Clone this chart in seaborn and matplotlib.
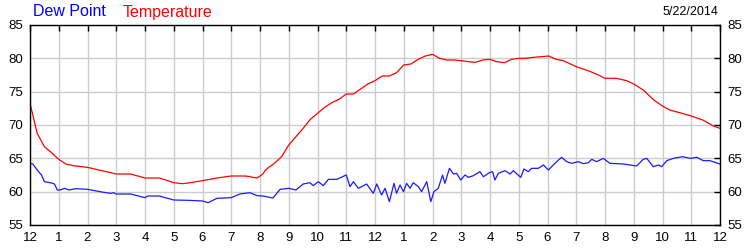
import matplotlib
matplotlib.use("Agg")
import matplotlib.pyplot as plt
import seaborn as sns
import pandas as pd

# Hours since midnight (0..24) and readings
temp_hours = [0, 0.25, 0.5, 0.75, 1, 1.25, 1.5, 2, 2.5, 3, 3.5, 4, 4.5, 5, 5.3, 5.5, 6, 6.5,
              7, 7.5, 7.9, 8.1, 8.2, 8.5, 8.75, 9, 9.25, 9.5, 9.75, 10, 10.25, 10.5, 10.75,
              11, 11.25, 11.5, 11.75, 12, 12.25, 12.5, 12.75, 13, 13.25, 13.5, 13.75, 14,
              14.25, 14.5, 14.75, 15, 15.25, 15.5, 15.75, 16, 16.23, 16.5, 16.75, 17, 17.25,
              17.5, 17.8, 18.04, 18.3, 18.55, 18.8, 19.0, 19.35, 19.7, 20, 20.4, 20.75, 21,
              21.33, 21.7, 22, 22.25, 22.6, 23, 23.4, 23.77, 24]
temperature = [73.25, 68.75, 66.75, 65.85, 64.85, 64.15, 63.9, 63.65, 63.15, 62.65, 62.65,
               62.05, 62.05, 61.35, 61.2, 61.3, 61.65, 62.05, 62.35, 62.35, 62.05, 62.65,
               63.3, 64.25, 65.25, 67.0, 68.25, 69.5, 70.85, 71.75, 72.65, 73.35, 73.85,
               74.65, 74.65, 75.4, 76.15, 76.65, 77.35, 77.35, 77.85, 79.0, 79.15, 79.85,
               80.35, 80.6, 80.0, 79.75, 79.75, 79.65, 79.5, 79.4, 79.75, 79.85, 79.5, 79.35,
               79.85, 80.0, 80.0, 80.15, 80.25, 80.35, 79.85, 79.65, 79.15, 78.75, 78.25,
               77.65, 77.0, 77.0, 76.65, 76.15, 75.25, 73.75, 72.85, 72.25, 71.85, 71.35,
               70.75, 69.85, 69.5]

dew_hours = [0, 0.1, 0.25, 0.4, 0.5, 0.75, 0.85, 0.95, 1.05, 1.2, 1.35, 1.6,
             2, 2.5, 2.8, 2.9, 3, 3.5, 4, 4.1, 4.5, 5, 5.5, 6,
             6.2, 6.5, 7, 7.3, 7.65, 7.9, 8.1, 8.45,
             8.7, 9.0, 9.25, 9.5, 9.74, 9.85, 10.03, 10.2, 10.38, 10.67, 11.0, 11.13,
             11.25, 11.42, 11.71, 11.94, 12.06, 12.23, 12.35, 12.5, 12.66, 12.75, 12.87, 12.99,
             13.1, 13.22, 13.33, 13.51, 13.62, 13.8, 13.94, 14.05, 14.2, 14.35, 14.43, 14.59,
             14.73, 14.84, 14.98, 15.13, 15.25, 15.42, 15.65, 15.77, 15.98,
             16.09, 16.17, 16.29, 16.52, 16.7, 16.81, 17.07, 17.18, 17.33, 17.45, 17.68,
             17.86, 18.03, 18.2, 18.38, 18.49, 18.67, 18.84, 19.07, 19.25, 19.42, 19.54,
             19.71, 19.94, 20.17, 20.64, 20.87, 21.1, 21.33, 21.45, 21.68, 21.86, 21.97,
             22.15, 22.38, 22.7, 22.96, 23.19, 23.42, 23.65, 24]
dew_point = [64.25, 64.15, 63.25, 62.5, 61.5, 61.3, 61.15, 60.25, 60.25, 60.5, 60.25, 60.45,
             60.35, 59.95, 59.75, 59.85, 59.65, 59.65, 59.1, 59.35, 59.35, 58.75, 58.7, 58.6,
             58.35, 59.0, 59.1, 59.65, 59.85, 59.4, 59.35, 59.05,
             60.35, 60.5, 60.25, 61.15, 61.35, 60.9, 61.5, 60.9, 61.85, 61.85, 62.5, 60.75,
             61.5, 60.5, 61.15, 59.75, 61.15, 59.5, 60.5, 58.5, 61.25, 59.75, 61.0, 60.0,
             61.25, 60.5, 61.35, 60.75, 60.0, 61.5, 58.5, 60.0, 60.5, 62.5, 61.25, 63.5,
             62.65, 62.75, 61.75, 62.5, 62.15, 62.4, 63.0, 62.25, 62.85,
             63.0, 61.75, 62.75, 63.15, 62.65, 63.15, 62.15, 63.4, 63.0, 63.5, 63.5,
             64.0, 63.25, 64.0, 64.75, 65.15, 64.5, 64.25, 64.5, 64.2, 64.35, 64.85,
             64.5, 65.0, 64.25, 64.15, 64.0, 63.85, 64.85, 65.0, 63.75, 64.0, 63.75,
             64.65, 65.0, 65.25, 65.0, 65.15, 64.65, 64.65, 64.15]

hour_labels = ['12', '1', '2', '3', '4', '5', '6', '7', '8', '9', '10', '11',
               '12', '1', '2', '3', '4', '5', '6', '7', '8', '9', '10', '11', '12']
y_ticks = [55, 60, 65, 70, 75, 80, 85]
date_label = "5/22/2014"

sns.set_style("white")
plt.rcParams['font.family'] = ['Liberation Sans', 'DejaVu Sans']

fig = plt.figure(figsize=(7.5, 2.5), dpi=100)
ax = fig.add_axes([30 / 750, 1 - 225 / 250, 690 / 750, 200 / 250])

temp_df = pd.DataFrame({'hour': temp_hours, 'value': temperature})
dew_df = pd.DataFrame({'hour': dew_hours, 'value': dew_point})

sns.lineplot(data=temp_df, x='hour', y='value', ax=ax, color='#ff0000', linewidth=0.9)
sns.lineplot(data=dew_df, x='hour', y='value', ax=ax, color='#1a1aff', linewidth=0.9)

ax.set_xlim(0, 24)
ax.set_ylim(55, 85)
ax.set_xticks(range(25))
ax.set_xticklabels(hour_labels)
ax.set_yticks(y_ticks)
ax.set_yticklabels([str(v) for v in y_ticks])
ax.set_xlabel('')
ax.set_ylabel('')
ax.grid(True, color='#cccccc', linewidth=1.0)
ax.set_axisbelow(True)
for s in ax.spines.values():
    s.set_color('black')
    s.set_linewidth(1.0)
ax.tick_params(axis='both', which='both', direction='in', length=4, width=1,
               top=True, right=True, labelright=True, labelsize=9.5, colors='black', pad=5)
ax.tick_params(axis='x', pad=5)

fig.text(33 / 750, 1 - 12 / 250, 'Dew Point', color='#0000ff', fontsize=11.5, va='center', ha='left')
fig.text(123 / 750, 1 - 12 / 250, 'Temperature', color='#ff0000', fontsize=11.5, va='center', ha='left')
fig.text(718 / 750, 1 - 12 / 250, date_label, color='black', fontsize=9, va='center', ha='right')

fig.savefig('out.png', dpi=100, facecolor='white')
